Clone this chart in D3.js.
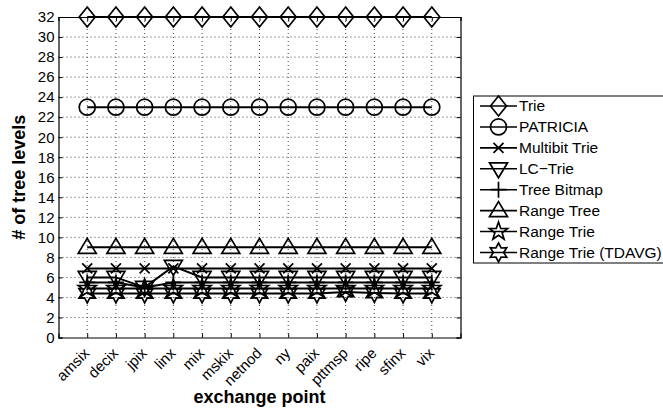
<!DOCTYPE html>
<html>
<head>
<meta charset="utf-8">
<script src="https://cdn.jsdelivr.net/npm/d3@7"></script>
<style>
  body { margin: 0; background: #fff; }
  svg text { font-family: "Liberation Sans", Arial, Helvetica, sans-serif; fill: #000; }
</style>
</head>
<body>
<div id="chart-area"><svg></svg></div>
<script>
const points = ['amsix', 'decix', 'jpix', 'linx', 'mix', 'mskix', 'netnod', 'ny', 'paix', 'pttmsp', 'ripe', 'sfinx', 'vix'];
const yTicks = [0, 2, 4, 6, 8, 10, 12, 14, 16, 18, 20, 22, 24, 26, 28, 30, 32];

const trie        = [32, 32, 32, 32, 32, 32, 32, 32, 32, 32, 32, 32, 32];
const patricia    = [23, 23, 23, 23, 23, 23, 23, 23, 23, 23, 23, 23, 23];
const multibit    = [6.9, 6.9, 6.9, 6.9, 6.9, 6.9, 6.9, 6.9, 6.9, 6.9, 6.9, 6.9, 6.9];
const lcTrie      = [6, 6, 5, 7.1, 6, 6, 6, 6, 6, 6, 6, 6, 6];
const treeBitmap  = [5.5, 5.5, 5, 5.5, 5.5, 5.5, 5.5, 5.5, 5.5, 5.5, 5.5, 5.5, 5.5];
const rangeTree   = [9, 9, 9, 9, 9, 9, 9, 9, 9, 9, 9, 9, 9];
const rangeTrie   = [4.9, 4.9, 4.9, 4.9, 4.9, 4.9, 4.9, 4.9, 4.9, 4.9, 4.9, 4.9, 4.9];
const rangeTdavg  = [4.4, 4.4, 4.4, 4.4, 4.4, 4.4, 4.4, 4.4, 4.4, 4.55, 4.45, 4.4, 4.4];

const seriesNames = ['Trie', 'PATRICIA', 'Multibit Trie', 'LC\u2212Trie', 'Tree Bitmap', 'Range Tree', 'Range Trie', 'Range Trie (TDAVG)'];
const seriesValues = [trie, patricia, multibit, lcTrie, treeBitmap, rangeTree, rangeTrie, rangeTdavg];
const seriesMarks = ['diamond', 'circle', 'x', 'triDown', 'plus', 'triUp', 'star5', 'star6'];

const chartSize = { width: 663, height: 412 };
const plot = { left: 58.5, right: 460.5, top: 17, bottom: 337.5 };

const starPath = (n, outer, inner) => {
    const pts = [];
    for (let i = 0; i < 2 * n; i++) {
        const r = i % 2 === 0 ? outer : inner;
        const a = -Math.PI / 2 + i * Math.PI / n;
        pts.push([r * Math.cos(a), r * Math.sin(a)]);
    }
    return 'M' + pts.map(p => p.join(',')).join('L') + 'Z';
}

const markerPaths = {
    diamond: 'M0,-10L8,0L0,10L-8,0Z',
    circle: 'M8,0A8,8 0 1,1 -8,0A8,8 0 1,1 8,0Z',
    x: 'M-5,-5L5,5M-5,5L5,-5',
    triDown: 'M-9,-6L9,-6L0,9Z',
    plus: 'M0,-8L0,8M-8,0L8,0',
    triUp: 'M-9,6L9,6L0,-9Z',
    star5: starPath(5, 9.5, 3.8),
    star6: starPath(6, 9.5, 5.2)
}

const drawMarker = (g, kind, cx, cy) => {
    g.append('path')
        .attr('d', markerPaths[kind])
        .attr('transform', `translate(${cx},${cy})`)
        .attr('fill', 'none')
        .attr('stroke', '#000')
        .attr('stroke-width', 1.7);
}

const drawChart = () => {
    const svg = d3.select('#chart-area svg')
        .attr('width', chartSize.width)
        .attr('height', chartSize.height);

    const x = d3.scaleLinear().domain([0, points.length + 1]).range([plot.left, plot.right]);
    const y = d3.scaleLinear().domain([0, 32]).range([plot.bottom, plot.top]);
    const xIdx = d3.range(1, points.length + 1);

    // dotted grid
    const grid = svg.append('g').attr('class', 'grid');
    grid.selectAll('.gx').data(xIdx).enter().append('line')
        .attr('x1', d => x(d)).attr('x2', d => x(d))
        .attr('y1', plot.top).attr('y2', plot.bottom);
    grid.selectAll('.gy').data(yTicks.slice(1, -1)).enter().append('line')
        .attr('x1', plot.left).attr('x2', plot.right)
        .attr('y1', d => y(d)).attr('y2', d => y(d));
    grid.selectAll('line')
        .attr('stroke', '#444')
        .attr('stroke-width', 1)
        .attr('stroke-dasharray', '1,3');

    // axes, ticks inside
    const yAxis = d3.axisLeft(y).tickValues(yTicks).tickSize(-4).tickPadding(4);
    const yAxisR = d3.axisRight(y).tickValues(yTicks).tickSize(-4).tickFormat('');
    const xAxis = d3.axisBottom(x).tickValues(xIdx).tickSize(-4).tickFormat(i => points[i - 1]);
    const xAxisT = d3.axisTop(x).tickValues(xIdx).tickSize(-4).tickFormat('');

    svg.append('g').attr('class', 'y-axis').attr('transform', `translate(${plot.left},0)`).call(yAxis);
    svg.append('g').attr('class', 'y-axis-r').attr('transform', `translate(${plot.right},0)`).call(yAxisR);
    svg.append('g').attr('class', 'x-axis').attr('transform', `translate(0,${plot.bottom})`).call(xAxis);
    svg.append('g').attr('class', 'x-axis-t').attr('transform', `translate(0,${plot.top})`).call(xAxisT);

    svg.selectAll('.domain').attr('stroke', '#000').attr('stroke-width', 1.2);
    svg.selectAll('.tick line').attr('stroke', '#000');
    svg.selectAll('.y-axis text').attr('font-size', 15).style('fill', '#000');

    svg.selectAll('.x-axis text')
        .attr('font-size', 15)
        .style('fill', '#000')
        .attr('x', 0)
        .attr('y', 0)
        .attr('dy', '0.35em')
        .attr('transform', 'translate(-1,13) rotate(-45)')
        .attr('text-anchor', 'end');

    // series
    const line = d3.line().x((d, i) => x(i + 1)).y(d => y(d));
    const series = svg.append('g').attr('class', 'series');
    seriesValues.forEach((vals, s) => {
        series.append('path')
            .attr('d', line(vals))
            .attr('fill', 'none')
            .attr('stroke', '#000')
            .attr('stroke-width', 2);
        vals.forEach((v, i) => drawMarker(series, seriesMarks[s], x(i + 1), y(v)));
    });

    // axis labels
    svg.append('text')
        .attr('x', (plot.left + plot.right) / 2)
        .attr('y', 403)
        .attr('text-anchor', 'middle')
        .attr('font-size', 18)
        .attr('font-weight', 'bold')
        .text('exchange point');

    svg.append('text')
        .attr('transform', `translate(25,${(plot.top + plot.bottom) / 2}) rotate(-90)`)
        .attr('text-anchor', 'middle')
        .attr('font-size', 18)
        .attr('font-weight', 'bold')
        .text('# of tree levels');

    // legend
    const legend = svg.append('g').attr('class', 'legend');
    legend.append('rect')
        .attr('x', 473.5).attr('y', 96)
        .attr('width', 220).attr('height', 167)
        .attr('fill', '#fff')
        .attr('stroke', '#000')
        .attr('stroke-width', 1);
    const rowY = d3.scaleLinear().domain([0, 7]).range([106, 252.5]);
    seriesNames.forEach((name, s) => {
        const ly = rowY(s);
        legend.append('line')
            .attr('x1', 480).attr('x2', 517)
            .attr('y1', ly).attr('y2', ly)
            .attr('stroke', '#000').attr('stroke-width', 1.6);
        drawMarker(legend, seriesMarks[s], 498.5, ly);
        legend.append('text')
            .attr('x', 519).attr('y', ly)
            .attr('dy', '0.35em')
            .attr('font-size', 15.5)
            .text(name);
    });
}

window.onload = drawChart;
</script>
</body>
</html>
